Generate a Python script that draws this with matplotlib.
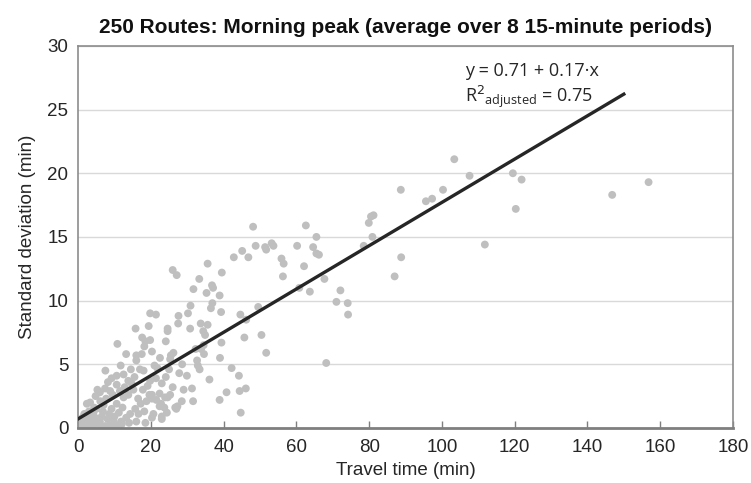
import matplotlib
matplotlib.use("Agg")
import matplotlib.pyplot as plt
import numpy as np

# travel time (min) and standard deviation (min) per route
travel_time = [
    103.4, 107.6, 100.3, 119.5, 121.9, 120.3, 146.8, 156.8, 111.8, 88.7,
    95.6, 97.3, 79.9, 80.5, 81.2, 80.9, 78.5, 88.8, 87.0, 72.1,
    74.1, 74.2, 71.0, 67.7, 63.7, 60.8, 68.2,
    48.1, 62.6, 65.5, 48.8, 51.4, 51.7, 53.2, 53.7, 45.1, 42.8,
    46.8, 60.2, 64.6, 65.5, 66.2, 55.9, 56.5, 62.1, 56.3, 35.6,
    39.5, 33.3, 31.7, 36.8, 37.1, 35.3, 38.9, 30.9, 36.9, 36.5,
    49.5, 26.0, 27.1, 39.3, 30.2, 27.6, 19.8, 21.4, 27.5, 24.6,
    24.6, 30.8, 33.7, 35.6, 34.4, 34.9, 44.6, 46.2, 45.7, 50.4,
    51.7, 24.1, 19.8, 32.3, 33.8, 34.5, 39.4, 34.6, 39.0, 32.7,
    32.9, 33.4, 42.2, 44.2, 36.1, 31.3, 31.6, 38.9, 40.8, 44.4,
    46.1, 44.7, 25.5, 26.2, 25.3, 27.8, 29.9, 24.1, 21.0, 21.8,
    21.4, 19.8, 20.3, 20.3, 23.9, 24.6, 22.8, 23.7, 26.7, 27.3,
    20.7, 23.0, 24.4,
    15.8, 19.4, 10.8, 17.6, 18.5, 18.2, 13.2, 16.0, 16.0, 11.7,
    7.5, 10.6, 14.5, 17.0, 18.0, 7.4, 8.8, 10.6, 13.8, 14.7,
    15.2, 13.8, 17.8, 19.1, 19.6, 22.4, 5.3, 3.3, 2.4, 4.4,
    6.1, 7.7, 10.6, 12.5, 15.7, 16.6, 14.3, 13.2, 18.2, 20.3,
    22.4, 23.0, 27.0, 1.7, 2.8, 4.7, 6.5, 8.1, 9.7, 1.5,
    3.3, 5.6, 7.4, 8.8, 0.5,
    1.0, 2.0, 2.5, 3.8, 4.2, 5.0, 6.0, 6.8, 7.0, 8.5,
    9.2, 10.0, 11.2, 11.8, 12.2, 3.0, 1.2, 0.8, 2.0, 4.0,
    6.5, 9.0, 10.5, 12.0, 14.0, 16.0, 18.5, 6.0, 4.8, 8.2,
    9.5, 11.5, 12.8, 16.5, 17.2, 18.8, 21.5, 25.3, 28.5, 26.0,
    29.0, 23.0, 25.0, 28.6, 22.5, 20.3, 12.5, 15.5, 9.2, 17.5,
]
std_dev = [
    21.1, 19.8, 18.7, 20.0, 19.5, 17.2, 18.3, 19.3, 14.4, 18.7,
    17.8, 18.0, 16.1, 16.6, 16.7, 15.0, 14.3, 13.4, 11.9, 10.8,
    9.8, 8.9, 9.9, 11.7, 10.7, 11.0, 5.1,
    15.8, 15.9, 15.0, 14.3, 14.2, 14.0, 14.5, 14.3, 13.9, 13.4,
    13.4, 14.3, 14.2, 13.7, 13.6, 13.3, 12.9, 12.7, 11.9, 12.9,
    12.2, 11.7, 10.9, 11.2, 11.0, 10.6, 10.4, 9.6, 9.8, 9.4,
    9.5, 12.4, 12.0, 9.1, 9.0, 8.8, 9.0, 8.9, 8.2, 7.8,
    7.6, 7.8, 8.2, 8.1, 7.6, 7.3, 8.9, 8.5, 7.1, 7.3,
    5.9, 6.8, 6.9, 6.2, 6.2, 6.5, 6.7, 5.8, 5.5, 5.3,
    4.9, 4.6, 4.7, 4.1, 3.8, 3.1, 2.1, 2.2, 2.8, 2.9,
    3.1, 1.2, 5.7, 5.9, 5.4, 4.3, 4.1, 4.0, 4.9, 4.7,
    3.9, 3.7, 2.6, 2.3, 2.4, 2.4, 1.9, 1.6, 1.6, 1.7,
    1.1, 0.7, 1.2,
    7.8, 8.0, 6.6, 7.1, 6.8, 6.4, 5.8, 5.7, 5.3, 4.9,
    4.5, 4.1, 4.6, 4.6, 4.5, 3.1, 2.9, 3.4, 3.7, 3.5,
    3.0, 2.6, 3.0, 3.3, 2.6, 2.7, 3.0, 2.0, 1.9, 1.6,
    2.1, 2.3, 1.9, 2.4, 1.5, 1.1, 1.1, 0.8, 1.3, 0.8,
    1.7, 0.9, 1.5, 1.1, 0.9, 0.8, 0.9, 0.7, 0.6, 0.3,
    0.2, 0.3, 0.15, 0.3, 0.1,
    0.5, 0.4, 0.7, 0.5, 1.2, 1.5, 0.5, 1.3, 1.8, 1.1,
    1.5, 0.9, 1.2, 0.5, 1.6, 1.3, 0.8, 0.2, 0.1, 0.1,
    0.1, 0.1, 0.2, 0.3, 0.4, 0.5, 0.4, 2.8, 2.5, 3.6,
    2.6, 2.9, 3.2, 2.3, 1.9, 2.1, 2.2, 2.6, 2.1, 3.2,
    3.0, 3.5, 4.6, 5.0, 5.5, 6.0, 4.2, 4.0, 3.9, 5.8,
]

# fitted regression: y = a + b*x, drawn over 0..150 min
fit_a = 0.71
fit_b = 0.17
fit_x = [0, 150]
r2_adj = 0.75

sans = ["Liberation Sans", "DejaVu Sans"]
note_font = ["Open Sans", "DejaVu Sans"]

fig = plt.figure(figsize=(7.51, 4.83), dpi=100)
ax = fig.add_axes([0.104, 0.114, 0.872, 0.791])

ax.scatter(travel_time, std_dev, s=32, color="#bfbfbf", edgecolors="none", zorder=2)
fx = np.array(fit_x, dtype=float)
ax.plot(fx, fit_a + fit_b * fx, color="#262626", linewidth=2.4, zorder=3)

ax.set_xlim(0, 180)
ax.set_ylim(0, 30)
ax.set_xticks(np.arange(0, 181, 20))
ax.set_yticks(np.arange(0, 31, 5))
ax.yaxis.grid(True, color="#d9d9d9", linewidth=1)
ax.set_axisbelow(True)

for side in ["top", "right", "left"]:
    ax.spines[side].set_color("#8c8c8c")
    ax.spines[side].set_linewidth(1.2)
ax.spines["bottom"].set_color("#7f7f7f")
ax.spines["bottom"].set_linewidth(2)

ax.tick_params(axis="x", direction="in", length=5, width=1, color="#7f7f7f", pad=8)
ax.tick_params(axis="y", length=0, pad=7)
for lbl in ax.get_xticklabels() + ax.get_yticklabels():
    lbl.set_family(sans)
    lbl.set_fontsize(13.5)
    lbl.set_color("#262626")

ax.set_xlabel("Travel time (min)", family=sans, fontsize=13.5, color="#262626", labelpad=4)
ax.set_ylabel("Standard deviation (min)", family=sans, fontsize=13.5, color="#262626", labelpad=8)
ax.set_title("250 Routes: Morning peak (average over 8 15-minute periods)",
             family=sans, fontsize=15, fontweight="bold", color="#111111", pad=9)

ax.text(0.591, 0.935, f"y = {fit_a:.2f} + {fit_b:.2f}·x", transform=ax.transAxes,
        family=note_font, fontsize=13, color="#262626", va="center")
ax.text(0.591, 0.866, r"R$^{2}$$_{\mathregular{adjusted}}$" + f" = {r2_adj:.2f}", transform=ax.transAxes,
        family=note_font, fontsize=13, color="#262626", va="center")

fig.savefig("out.png", dpi=100)
